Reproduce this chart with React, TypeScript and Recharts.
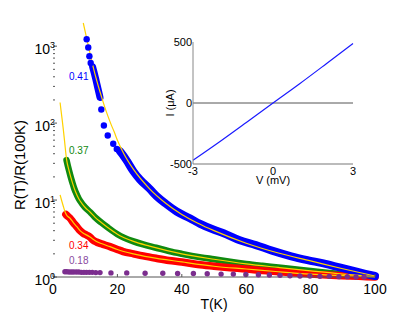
import React from "react";
import {
  ComposedChart,
  Line,
  LineChart,
  ReferenceLine,
  Scatter,
  XAxis,
  YAxis,
} from "recharts";

const FONT = '"Liberation Sans", Arial, sans-serif';
const BLUE = "#0000ff";
const GREEN = "#108a10";
const RED = "#ff0000";
const PURPLE = "#7b2d8e";
const YELLOW = "#ffd200";
const AXIS = "#555";

// main panel: [T (K), R(T)/R(100K)]
const blueDots = [
  [10.45, 1230], [10.95, 960], [11.3, 740], [11.7, 605],
  [15.0, 150], [15.8, 93], [17.0, 69], [18.7, 54], [19.8, 46],
];
const blueBandLow = [
  [12.3, 540], [12.8, 450], [13.3, 370], [13.8, 300], [14.2, 255], [14.6, 215],
];
const blueBand = [
  [20.8, 43], [22, 37], [23, 32], [25, 23.5], [27, 18.5], [30, 14], [32.2, 11.2],
  [35, 9], [38.4, 7.1], [42.5, 5.8], [45.7, 4.9], [50, 4.1], [53, 3.7], [58, 3.0],
  [63, 2.6], [68, 2.2], [74, 1.86], [79, 1.66], [84, 1.5], [89, 1.33], [94, 1.18],
  [97, 1.1], [100, 1.03],
];
const blueFit = [
  [9.4, 2000], [10, 1550], [11, 1000], [12, 650], [13, 440], [14, 310], [15, 225],
  [16, 165], [17, 125], [18, 97], [19, 77], [20, 60], [22, 40], [25, 25], [30, 14],
  [35, 9.1], [40, 6.5], [45, 5.0], [50, 4.0], [60, 2.75], [70, 2.05], [80, 1.62],
  [90, 1.28], [100, 1.03],
];

const greenBand = [
  [4.2, 33], [4.6, 28], [5, 24], [5.5, 20], [6, 17], [6.5, 14.5], [7, 12.8],
  [8, 10.4], [9, 9.0], [10, 8.0], [11.5, 7.0], [13, 6.0], [15, 5.1], [17, 4.4],
  [20, 3.6], [22, 3.25], [25, 2.9], [28, 2.65], [32, 2.4], [36, 2.17], [40, 2.0],
  [46, 1.8], [50, 1.7], [55, 1.58], [60, 1.48], [65, 1.4], [70, 1.33], [75, 1.26],
  [80, 1.2], [85, 1.14], [90, 1.09], [95, 1.05], [100, 1.01],
];
const greenFit = [
  [2.2, 185], [2.5, 145], [2.8, 115], [3.2, 83], [3.6, 58], [4.2, 34], [5, 24],
  [6, 17], [7, 12.8], [8, 10.4], [9, 9.0], [10, 8.0], [11.5, 7.0], [13, 6.0],
  [15, 5.1], [17, 4.4], [20, 3.6], [25, 2.9], [30, 2.52], [40, 2.0], [50, 1.7],
  [60, 1.48], [70, 1.33], [80, 1.2], [90, 1.09], [100, 1.01],
];

const redBand = [
  [4.0, 6.5], [4.5, 6.2], [5.3, 5.8], [6.3, 5.1], [7.4, 4.5], [8.4, 4.0],
  [9.4, 3.7], [10.5, 3.5], [11.5, 3.3], [12.5, 3.0], [13.5, 2.85], [15, 2.7],
  [17.7, 2.48], [20, 2.28], [21.8, 2.14], [25, 2.0], [28, 1.88], [32, 1.75],
  [36, 1.64], [40, 1.57], [45, 1.45], [50, 1.38], [55, 1.32], [60, 1.27],
  [65, 1.21], [70, 1.17], [75, 1.13], [80, 1.09], [85, 1.06], [90, 1.04],
  [95, 1.02], [100, 1.0],
];
const redFit = [
  [2.2, 11.7], [2.7, 9.8], [3.2, 8.3], [3.7, 7.1], [4.2, 6.4], [5.3, 5.8],
  [6.3, 5.1], [7.4, 4.5], [8.4, 4.0], [9.4, 3.7], [10.5, 3.5], [11.5, 3.3],
  [13.5, 2.9], [15, 2.72], [17.7, 2.48], [20, 2.28], [25, 2.0], [30, 1.81],
  [40, 1.57], [50, 1.38], [60, 1.27], [70, 1.17], [80, 1.09], [90, 1.04],
  [100, 1.0],
];

const purpleDots = [
  [3.7, 1.17], [4.3, 1.17], [5, 1.16], [5.7, 1.16], [6.4, 1.16], [7.2, 1.16],
  [8, 1.16], [8.8, 1.15], [9.6, 1.15], [10.4, 1.15], [11.3, 1.15], [12.2, 1.15],
  [13.3, 1.14], [14.6, 1.14], [18, 1.13], [22.9, 1.13], [28.6, 1.12],
  [34.1, 1.12], [38.7, 1.11], [43.6, 1.11], [47.9, 1.1], [52.2, 1.09],
  [56, 1.09], [59.9, 1.08], [63.8, 1.07], [67.2, 1.06], [70.5, 1.05],
  [73.6, 1.04], [76.7, 1.03], [79.8, 1.03], [82.9, 1.02], [85.8, 1.02],
  [88.8, 1.01], [91.4, 1.01], [94.1, 1.0], [96.6, 1.0],
];

const xTicks = [0, 20, 40, 60, 80, 100];
const topTicks = [20, 40, 80];
const yTicks = [
  1, 2, 3, 4, 5, 6, 7, 8, 9, 10, 20, 30, 40, 50, 60, 70, 80, 90,
  100, 200, 300, 400, 500, 600, 700, 800, 900, 1000,
];

// inset I-V: [V (mV), I (uA)]
const ivCurve = [
  [-3, -470], [-2, -318], [-1, -160], [0, 0], [1, 158], [2, 322], [3, 488],
];
const ivXTicks = [-3, 0, 3];
const ivYTicks = [-500, 0, 500];

const pts = (a: number[][]) => a.map(([t, r]) => ({ t, r }));

const isDecade = (v: number) => Math.abs(Math.log10(v) - Math.round(Math.log10(v))) < 1e-6;

const LeftTick = ({ x, y, payload }: any) => {
  const major = isDecade(payload.value);
  return (
    <g>
      <line x1={x} x2={x + (major ? 4 : 2)} y1={y} y2={y} stroke={AXIS} />
      {major && (
        <text x={x + 2} y={y + 8} textAnchor="end" fontSize={14} fontFamily={FONT} fill="#000">
          10
          <tspan dy={-6.5} fontSize={9}>
            {Math.round(Math.log10(payload.value))}
          </tspan>
        </text>
      )}
    </g>
  );
};

const RightTick = ({ x, y, payload }: any) => (
  <line x1={x - (isDecade(payload.value) ? 4 : 2)} x2={x} y1={y} y2={y} stroke={AXIS} />
);

const BottomTick = ({ x, y, payload }: any) => (
  <g>
    <line x1={x} x2={x} y1={y - 3} y2={y} stroke={AXIS} />
    <text x={x} y={y + 16.5} textAnchor="middle" fontSize={14} fontFamily={FONT} fill="#000">
      {payload.value}
    </text>
  </g>
);

const TopTick = ({ x, y }: any) => <line x1={x} x2={x} y1={y} y2={y + 4} stroke={AXIS} />;

const IvXTick = ({ x, y, payload }: any) => (
  <text x={x} y={y + 11} textAnchor="middle" fontSize={11} fontFamily={FONT} fill="#000">
    {payload.value}
  </text>
);

const IvYTick = ({ x, y, payload }: any) => (
  <text x={x - 1} y={y + 4} textAnchor="end" fontSize={11} fontFamily={FONT} fill="#000">
    {payload.value}
  </text>
);

const band = (data: number[][], color: string, width: number, key: string) => (
  <Line
    key={key}
    data={pts(data)}
    dataKey="r"
    type="monotone"
    stroke={color}
    strokeWidth={width}
    strokeLinecap="round"
    strokeLinejoin="round"
    dot={false}
    activeDot={false}
    isAnimationActive={false}
  />
);

const fit = (data: number[][], key: string) => (
  <Line
    key={key}
    data={pts(data)}
    dataKey="r"
    type="monotone"
    stroke={YELLOW}
    strokeWidth={1.2}
    dot={false}
    activeDot={false}
    isAnimationActive={false}
  />
);

const dotShape = (color: string, r: number) => (p: any) =>
  <circle cx={p.cx} cy={p.cy} r={r} fill={color} />;

const tag = (text: string, color: string, top: number) => (
  <div
    style={{
      position: "absolute",
      left: 69,
      top,
      fontSize: 10,
      lineHeight: "12px",
      color,
      fontFamily: FONT,
    }}
  >
    {text}
  </div>
);

export default function App() {
  return (
    <div style={{ position: "absolute", left: 0, top: 0, width: 415, height: 312, background: "#fff" }}>
      <ComposedChart width={415} height={312} margin={{ top: 23, right: 40, bottom: 0, left: 0 }}>
        <XAxis
          dataKey="t"
          type="number"
          domain={[0, 100]}
          ticks={xTicks}
          interval={0}
          height={35}
          tickSize={0}
          tickMargin={0}
          tick={<BottomTick />}
          axisLine={{ stroke: AXIS }}
        />
        <XAxis
          xAxisId="top"
          orientation="top"
          dataKey="t"
          type="number"
          domain={[0, 100]}
          ticks={topTicks}
          interval={0}
          height={0}
          tickSize={0}
          tickMargin={0}
          tick={<TopTick />}
          axisLine={false}
        />
        <YAxis
          dataKey="r"
          type="number"
          scale="log"
          domain={[1, 2000]}
          ticks={yTicks}
          interval={0}
          width={53}
          tickSize={0}
          tickMargin={0}
          tick={<LeftTick />}
          axisLine={false}
        />
        <YAxis
          yAxisId="right"
          orientation="right"
          dataKey="r"
          type="number"
          scale="log"
          domain={[1, 2000]}
          ticks={yTicks}
          interval={0}
          width={0}
          tickSize={0}
          tickMargin={0}
          tick={<RightTick />}
          axisLine={{ stroke: AXIS }}
        />
        {band(greenBand, GREEN, 6.5, "greenBand")}
        {band(redBand, RED, 7.5, "redBand")}
        {band(blueBand, BLUE, 8, "blueBand")}
        {band(blueBandLow, BLUE, 7, "blueBandLow")}
        <Scatter data={pts(blueDots)} dataKey="r" shape={dotShape(BLUE, 3.2)} isAnimationActive={false} />
        <Scatter data={pts(purpleDots)} dataKey="r" shape={dotShape(PURPLE, 2.7)} isAnimationActive={false} />
        {fit(greenFit, "greenFit")}
        {fit(redFit, "redFit")}
        {fit(blueFit, "blueFit")}
      </ComposedChart>

      {tag("0.41", BLUE, 71)}
      {tag("0.37", GREEN, 145)}
      {tag("0.34", RED, 240)}
      {tag("0.18", "#8a4a9e", 255)}

      <div
        style={{
          position: "absolute",
          left: 19,
          top: 165,
          transform: "translate(-50%, -50%) rotate(-90deg)",
          fontSize: 15,
          fontFamily: FONT,
          whiteSpace: "nowrap",
          lineHeight: 1,
        }}
      >
        R(T)/R(100K)
      </div>
      <div
        style={{
          position: "absolute",
          left: 214,
          top: 304,
          transform: "translate(-50%, -50%)",
          fontSize: 14,
          fontFamily: FONT,
          whiteSpace: "nowrap",
          lineHeight: 1,
        }}
      >
        T(K)
      </div>

      <div style={{ position: "absolute", left: 150, top: 25 }}>
        <LineChart width={220} height={170} data={ivCurve.map(([v, i]) => ({ v, i }))} margin={{ top: 17, right: 17, bottom: 0, left: 0 }}>
          <XAxis
            dataKey="v"
            type="number"
            domain={[-3, 3]}
            ticks={ivXTicks}
            interval={0}
            height={31}
            tickSize={0}
            tickMargin={0}
            tick={<IvXTick />}
            axisLine={{ stroke: "#bbb", strokeWidth: 2 }}
          />
          <XAxis
            xAxisId="top"
            orientation="top"
            dataKey="v"
            type="number"
            domain={[-3, 3]}
            height={0}
            tick={false}
            axisLine={{ stroke: "#888" }}
          />
          <YAxis
            dataKey="i"
            type="number"
            domain={[-500, 500]}
            ticks={ivYTicks}
            interval={0}
            width={43}
            tickSize={0}
            tickMargin={0}
            tick={<IvYTick />}
            axisLine={{ stroke: "#888" }}
          />
          <YAxis
            yAxisId="right"
            orientation="right"
            dataKey="i"
            type="number"
            domain={[-500, 500]}
            width={0}
            tick={false}
            axisLine={{ stroke: "#888" }}
          />
          <ReferenceLine y={0} stroke="#555" />
          <Line
            dataKey="i"
            type="monotone"
            stroke="#1a1aff"
            strokeWidth={1.2}
            dot={false}
            activeDot={false}
            isAnimationActive={false}
          />
        </LineChart>
      </div>
      <div
        style={{
          position: "absolute",
          left: 170,
          top: 103,
          transform: "translate(-50%, -50%) rotate(-90deg)",
          fontSize: 11,
          fontFamily: FONT,
          whiteSpace: "nowrap",
          lineHeight: 1,
        }}
      >
        I (μA)
      </div>
      <div
        style={{
          position: "absolute",
          left: 273,
          top: 180,
          transform: "translate(-50%, -50%)",
          fontSize: 11,
          fontFamily: FONT,
          whiteSpace: "nowrap",
          lineHeight: 1,
        }}
      >
        V (mV)
      </div>
    </div>
  );
}
